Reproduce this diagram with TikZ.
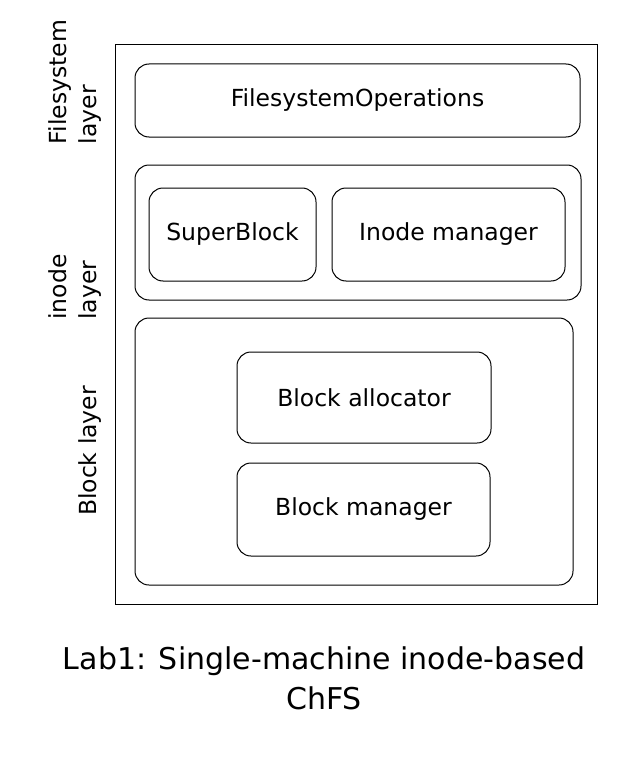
\documentclass[tikz,border=0pt]{standalone}
\usepackage{fontspec}
\setmainfont{DejaVu Sans}
\usepackage{tikz}

\begin{document}
\begin{tikzpicture}[x=1pt, y=-1pt, line width=1pt,
    every node/.style={inner sep=0pt, font=\fontsize{23.5}{27}\selectfont},
    box/.style={draw, rectangle, rounded corners=14pt},
    layerlabel/.style={rotate=90, align=left, font=\fontsize{23.5}{30}\selectfont}]

    \useasboundingbox (0, 0) rectangle (630, 757);

    \node[draw, rectangle, minimum width=482pt, minimum height=559pt] (chfs) at (356, 324.5) {};

    \node[box, minimum width=445pt, minimum height=73pt] (fsops) at (357.5, 100.5) {FilesystemOperations};

    \node[box, minimum width=446pt, minimum height=135pt] (inodelayer) at (358, 232.5) {};
    \node[box, minimum width=167pt, minimum height=93pt] (superblock) at (232.5, 234.5) {SuperBlock};
    \node[box, minimum width=233pt, minimum height=93pt] (inodemgr) at (448.5, 234.5) {Inode manager};

    \node[box, minimum width=438pt, minimum height=267pt] (blocklayer) at (354, 451.5) {};
    \node[box, minimum width=254pt, minimum height=91pt] (allocator) at (364, 397.5) {Block allocator};
    \node[box, minimum width=253pt, minimum height=93pt] (blockmgr) at (363.5, 509.5) {Block manager};

    \node[layerlabel] (fslabel) at (75, 82) {Filesystem\\layer};
    \node[layerlabel] (inodelabel) at (75, 287) {inode\\layer};
    \node[layerlabel] (blocklabel) at (90, 451) {Block layer};

    \node[align=center, font=\fontsize{30}{40}\selectfont] (caption) at (324, 678) {Lab1: Single-machine inode-based\\ChFS};

\end{tikzpicture}
\end{document}
